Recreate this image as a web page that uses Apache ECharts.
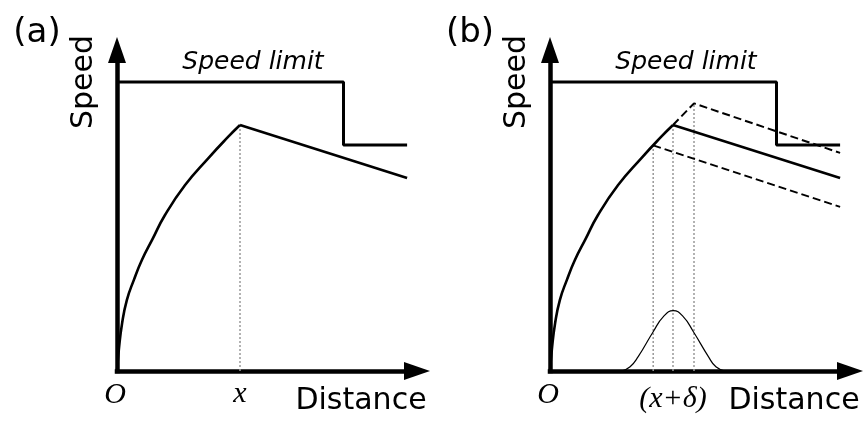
<!DOCTYPE html>
<html>
<head>
<meta charset="utf-8">
<script src="https://cdn.jsdelivr.net/npm/echarts@6/dist/echarts.min.js"></script>
<style>
  html, body { margin: 0; padding: 0; background: #fff; }
  #chart { width: 866px; height: 421px; }
</style>
</head>
<body>
<div id="chart"></div>
<script>
// speed limit step (distance, speed)
const limitX = [0, 75.5, 75.5, 96.7];
const limitY = [96.3, 96.3, 75.3, 75.3];

// accelerating part of the speed profile
const curveX = [0, 0.6, 1.7, 3.3, 5.6, 8.3, 11.7, 16, 22.7, 30.4, 37.1, 41];
const curveY = [0, 7, 15.9, 23.7, 30.3, 37, 43.7, 52, 62, 70.9, 78.1, 82];

// decelerating part after the switch point x
const decelX = [41, 96.7];
const decelY = [82, 64.3];

// shifted switch points (x - delta, x + delta)
const earlyX = [34.4, 96.7];
const earlyY = [75.2, 54.7];
const lateX = [41, 48, 96.7];
const lateY = [82, 89.2, 72.7];

// distribution of the switch point
const gaussX = [23.9, 26.7, 29.4, 34.4, 37.8, 41.1, 44.4, 47.8, 52.8, 55.3, 58.3];
const gaussY = [0, 1.4, 4.8, 13.1, 18.1, 20.1, 18.1, 13.1, 4.8, 1.4, 0];

// vertical guides
const guideX = [34.4, 41, 48];
const guideTop = [75.2, 82, 89.2];

const zip = (xs, ys) => xs.map((v, i) => [v, ys[i]]);

const chart = echarts.init(document.getElementById('chart'));

const axisLine = {
  show: true,
  onZero: false,
  symbol: ['none', 'triangle'],
  symbolSize: [18, 26],
  lineStyle: { color: '#000', width: 4.5, cap: 'square' }
};
const mkX = (gi) => ({
  gridIndex: gi, type: 'value', min: 0, max: 100,
  axisLine: axisLine, axisTick: { show: false }, axisLabel: { show: false }, splitLine: { show: false }
});
const mkY = (gi) => ({
  gridIndex: gi, type: 'value', min: 0, max: 107,
  axisLine: axisLine, axisTick: { show: false }, axisLabel: { show: false }, splitLine: { show: false }
});

const line = (gi, data, style, extra) => Object.assign({
  type: 'line', xAxisIndex: gi, yAxisIndex: gi, data: data,
  symbol: 'none', silent: true, z: 3,
  lineStyle: Object.assign({ color: '#000', width: 2.6 }, style)
}, extra || {});

const dotted = { color: '#999', width: 1.5, type: [2, 2] };
const dashed = { width: 2, type: [8, 4] };
const smoothCurve = { smooth: 0.5 };

const series = [];
[0, 1].forEach(gi => {
  series.push(line(gi, zip(limitX, limitY), { width: 3 }));
  series.push(line(gi, zip(curveX, curveY), {}, smoothCurve));
  series.push(line(gi, zip(decelX, decelY), {}));
});
series.push(line(0, [[guideX[1], 0], [guideX[1], guideTop[1]]], dotted, { z: 2 }));
series.push(line(1, zip(earlyX, earlyY), dashed));
series.push(line(1, zip(lateX, lateY), dashed));
series.push(line(1, zip(gaussX, gaussY), { width: 1.2 }, smoothCurve));
guideX.forEach((gx, i) => {
  series.push(line(1, [[gx, 0], [gx, guideTop[i]]], dotted, { z: 2 }));
});

const sans = 'DejaVu Sans';
const serif = 'Liberation Serif';
const txt = (x, y, text, family, size, italic, rot) => ({
  type: 'text', x: x, y: y, rotation: rot || 0,
  style: {
    text: text, fontFamily: family, fontSize: size,
    fontStyle: italic ? 'italic' : 'normal',
    fill: '#000', align: 'center', verticalAlign: 'middle'
  }
});

const graphic = [];
[0, 433].forEach((dx, i) => {
  graphic.push(txt(dx + 37, 33, i ? '(b)' : '(a)', sans, 34));
  graphic.push(txt(dx + 84, 82, 'Speed', sans, 30, false, Math.PI / 2));
  graphic.push(txt(dx + 253, 62, 'Speed limit', sans, 25, true));
  graphic.push(txt(dx + 361, 401, 'Distance', sans, 30));
  graphic.push(txt(dx + 115, 395, 'O', serif, 30, true));
});
graphic.push(txt(240, 394, 'x', serif, 30, true));
graphic.push(txt(673, 399, '(x+δ)', serif, 30, true));

chart.setOption({
  animation: false,
  backgroundColor: '#fff',
  grid: [
    { left: 117, top: 50, width: 300, height: 321 },
    { left: 550, top: 50, width: 300, height: 321 }
  ],
  xAxis: [mkX(0), mkX(1)],
  yAxis: [mkY(0), mkY(1)],
  series: series,
  graphic: graphic
});
</script>
</body>
</html>
